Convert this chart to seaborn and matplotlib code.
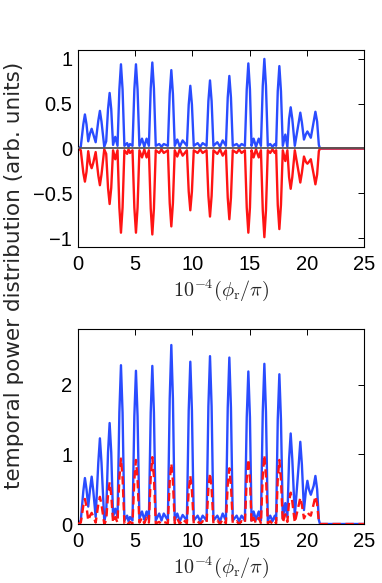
import matplotlib
matplotlib.use("Agg")
import matplotlib.pyplot as plt
import seaborn as sns
import pandas as pd

# ---- data ----
phase = [0.0, 0.25, 0.47, 0.61, 0.75, 0.9, 1.06, 1.2, 1.34, 1.55,
         1.78, 1.92, 2.06, 2.3, 2.47, 2.63, 2.77, 2.91, 3.07, 3.26,
         3.46, 3.62, 3.76, 3.9, 4.06, 4.3, 4.42, 4.55, 4.77, 4.93,
         5.07, 5.21, 5.37, 5.6, 5.8, 6.0, 6.2, 6.36, 6.5, 6.64,
         6.8, 7.1, 7.3, 7.5, 7.86, 8.02, 8.16, 8.3, 8.46, 8.68,
         8.9, 9.15, 9.52, 9.68, 9.82, 9.96, 10.12, 10.46, 10.68, 10.9,
         11.24, 11.4, 11.54, 11.68, 11.84, 12.18, 12.42, 12.65, 12.93, 13.09,
         13.23, 13.37, 13.53, 13.87, 14.08, 14.3, 14.59, 14.75, 14.89, 15.03,
         15.17, 15.35, 15.56, 15.8, 15.99, 16.15, 16.29, 16.43, 16.59, 16.8,
         17.0, 17.2, 17.32, 17.46, 17.6, 17.74, 17.9, 18.12, 18.3, 18.45,
         18.59, 18.73, 18.95, 19.29, 19.43, 19.57, 19.75, 19.92, 20.05, 20.18,
         20.35, 20.6, 20.75, 20.9, 21.05, 21.15, 25.0]

top_blue = [0.0, 0.02, 0.27, 0.38, 0.27, 0.08, 0.17, 0.22, 0.16, 0.07,
            0.31, 0.42, 0.30, 0.02, 0.08, 0.44, 0.62, 0.44, 0.04, 0.13,
            0.03, 0.66, 0.94, 0.66, 0.03, 0.06, 0.02, 0.05, 0.03, 0.66,
            0.94, 0.66, 0.03, 0.11, 0.02, 0.11, 0.03, 0.67, 0.96, 0.67,
            0.03, 0.05, 0.02, 0.05, 0.03, 0.61, 0.875, 0.61, 0.03, 0.10,
            0.02, 0.09, 0.03, 0.49, 0.70, 0.49, 0.03, 0.06, 0.02, 0.06,
            0.03, 0.53, 0.76, 0.53, 0.03, 0.07, 0.02, 0.09, 0.03, 0.57,
            0.81, 0.57, 0.03, 0.05, 0.02, 0.05, 0.03, 0.66, 0.95, 0.66,
            0.03, 0.11, 0.02, 0.11, 0.03, 0.70, 1.00, 0.70, 0.03, 0.05,
            0.02, 0.05, 0.03, 0.64, 0.92, 0.64, 0.03, 0.155, 0.02, 0.33,
            0.46, 0.33, 0.03, 0.29, 0.40, 0.29, 0.10, 0.16, 0.19, 0.16,
            0.12, 0.30, 0.41, 0.30, 0.04, 0.0, 0.0]

top_red = [0.0, -0.02, -0.27, -0.37, -0.26, -0.03, -0.17, -0.22, -0.16, -0.04,
           -0.30, -0.41, -0.29, -0.01, -0.06, -0.44, -0.62, -0.44, -0.02, -0.12,
           -0.02, -0.66, -0.94, -0.66, -0.02, -0.06, -0.01, -0.05, -0.02, -0.66,
           -0.94, -0.66, -0.02, -0.10, -0.01, -0.10, -0.02, -0.67, -0.96, -0.67,
           -0.02, -0.05, -0.01, -0.05, -0.02, -0.61, -0.87, -0.61, -0.02, -0.09,
           -0.01, -0.08, -0.02, -0.48, -0.69, -0.48, -0.02, -0.05, -0.01, -0.05,
           -0.02, -0.53, -0.76, -0.53, -0.02, -0.06, -0.01, -0.08, -0.02, -0.55,
           -0.79, -0.55, -0.02, -0.05, -0.01, -0.05, -0.02, -0.66, -0.94, -0.66,
           -0.02, -0.10, -0.01, -0.10, -0.02, -0.69, -0.99, -0.69, -0.02, -0.05,
           -0.01, -0.05, -0.02, -0.63, -0.90, -0.63, -0.02, -0.14, -0.02, -0.32,
           -0.45, -0.32, -0.02, -0.27, -0.38, -0.27, -0.09, -0.15, -0.17, -0.15,
           -0.12, -0.29, -0.40, -0.29, -0.03, 0.0, 0.0]

bottom_blue = [0.0, 0.05, 0.47, 0.66, 0.50, 0.25, 0.50, 0.68, 0.48, 0.10,
               0.88, 1.23, 0.88, 0.05, 0.15, 1.03, 1.45, 1.03, 0.10, 0.22,
               0.10, 1.60, 2.28, 1.60, 0.05, 0.12, 0.04, 0.10, 0.05, 1.55,
               2.20, 1.55, 0.08, 0.18, 0.06, 0.18, 0.06, 1.60, 2.27, 1.60,
               0.05, 0.15, 0.05, 0.15, 0.05, 1.80, 2.57, 1.80, 0.05, 0.15,
               0.04, 0.13, 0.05, 1.63, 2.33, 1.63, 0.05, 0.12, 0.04, 0.12,
               0.05, 1.69, 2.41, 1.69, 0.05, 0.12, 0.04, 0.15, 0.05, 1.67,
               2.39, 1.67, 0.05, 0.12, 0.04, 0.12, 0.05, 1.53, 2.19, 1.53,
               0.05, 0.18, 0.06, 0.18, 0.05, 1.61, 2.30, 1.61, 0.05, 0.12,
               0.04, 0.12, 0.05, 1.50, 2.15, 1.50, 0.08, 0.30, 0.10, 0.93,
               1.30, 0.93, 0.12, 0.85, 1.18, 0.85, 0.20, 0.48, 0.62, 0.50,
               0.42, 0.55, 0.69, 0.50, 0.06, 0.0, 0.0]

bottom_red = [0.0, 0.02, 0.26, 0.36, 0.25, 0.05, 0.12, 0.16, 0.11, 0.02,
              0.28, 0.39, 0.28, 0.0, 0.05, 0.42, 0.60, 0.42, 0.02, 0.10,
              0.02, 0.66, 0.94, 0.66, 0.01, 0.04, 0.0, 0.03, 0.01, 0.64,
              0.92, 0.64, 0.02, 0.09, 0.01, 0.09, 0.02, 0.67, 0.96, 0.67,
              0.01, 0.03, 0.0, 0.03, 0.01, 0.61, 0.87, 0.61, 0.01, 0.08,
              0.0, 0.07, 0.01, 0.48, 0.69, 0.48, 0.01, 0.04, 0.0, 0.04,
              0.01, 0.51, 0.73, 0.51, 0.01, 0.05, 0.0, 0.07, 0.01, 0.56,
              0.80, 0.56, 0.01, 0.04, 0.0, 0.04, 0.01, 0.65, 0.93, 0.65,
              0.01, 0.09, 0.01, 0.09, 0.01, 0.69, 0.99, 0.69, 0.01, 0.04,
              0.0, 0.04, 0.01, 0.64, 0.92, 0.64, 0.02, 0.14, 0.03, 0.32,
              0.45, 0.32, 0.02, 0.27, 0.38, 0.27, 0.08, 0.14, 0.17, 0.14,
              0.12, 0.29, 0.40, 0.29, 0.03, 0.0, 0.0]

x_ticks = [0, 5, 10, 15, 20, 25]
top_yticks = [-1, -0.5, 0, 0.5, 1]
top_yticklabels = ["\u22121", "\u22120.5", "0", "0.5", "1"]
bottom_yticks = [0, 1, 2]
xlabel = r"$10^{-4}(\phi_{\rm r}/\pi)$"
ylabel = "temporal power distribution (arb. units)"

# ---- style ----
sns.set_style("white")
plt.rcParams["font.family"] = ["Liberation Sans", "DejaVu Sans"]
plt.rcParams["mathtext.fontset"] = "cm"
plt.rcParams["axes.linewidth"] = 0.8
plt.rcParams["axes.edgecolor"] = "black"

BLUE = "#2a4cff"
RED = "#ff1414"
FS = 14.5
LW = 1.7

df = pd.DataFrame({"phase": phase, "top_blue": top_blue, "top_red": top_red,
                   "bottom_blue": bottom_blue, "bottom_red": bottom_red})

fig = plt.figure(figsize=(3.82, 5.83), dpi=100)
ax1 = fig.add_axes([0.204, 0.5763, 0.749, 0.338])
ax2 = fig.add_axes([0.204, 0.1012, 0.749, 0.3345])

sns.lineplot(data=df, x="phase", y="top_blue", ax=ax1, color=BLUE, lw=LW,
             estimator=None, sort=False)
sns.lineplot(data=df, x="phase", y="top_red", ax=ax1, color=RED, lw=LW,
             estimator=None, sort=False)
ax1.axhline(0, color="#555555", lw=1.3, zorder=3)

sns.lineplot(data=df, x="phase", y="bottom_blue", ax=ax2, color=BLUE, lw=LW,
             estimator=None, sort=False)
sns.lineplot(data=df, x="phase", y="bottom_red", ax=ax2, color=RED, lw=LW,
             estimator=None, sort=False)
red_line = ax2.lines[-1]
red_line.set_linestyle((0, (3.5, 2)))
red_line.set_zorder(3)

ax1.set_xlim(0, 25)
ax1.set_ylim(-1.1, 1.1)
ax1.set_yticks(top_yticks)
ax1.set_yticklabels(top_yticklabels)
ax2.set_xlim(0, 25)
ax2.set_ylim(0, 2.8)
ax2.set_yticks(bottom_yticks)

for ax in (ax1, ax2):
    ax.set_xticks(x_ticks)
    ax.tick_params(direction="in", length=4, width=0.7, top=True, right=True,
                   labelsize=FS, colors="black")
    ax.tick_params(axis="x", pad=6)
    ax.tick_params(axis="y", pad=4)
    ax.set_xlabel(xlabel, fontsize=FS, labelpad=2)
    ax.set_ylabel("")
    for s in ax.spines.values():
        s.set_visible(True)
        s.set_color("black")
        s.set_linewidth(0.8)

fig.text(0.036, 0.528, ylabel, rotation=90, ha="center", va="center",
         fontsize=15.5, family=["DejaVu Sans"])

fig.savefig("out.png", dpi=100, facecolor="white")
